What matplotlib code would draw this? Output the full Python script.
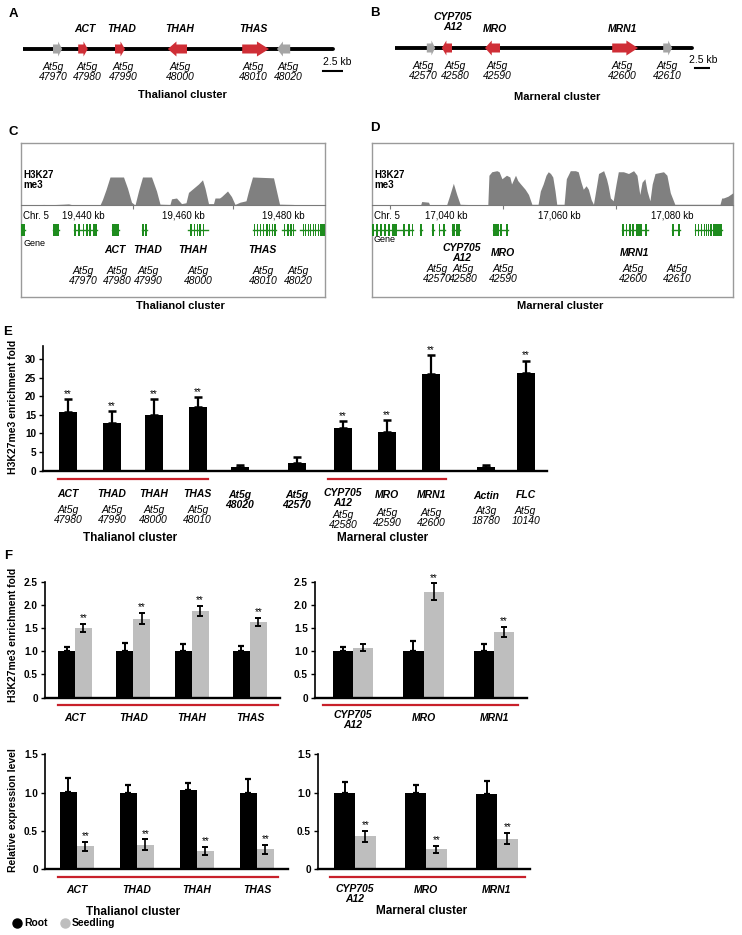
import matplotlib
matplotlib.use("Agg")
import matplotlib.pyplot as plt
from matplotlib.patches import Polygon
from matplotlib.lines import Line2D
from matplotlib.transforms import blended_transform_factory

plt.rcParams["font.family"] = ["Liberation Sans", "DejaVu Sans"]

# ---------------- data ----------------
# A: thalianol cluster map (kb from left end of the line)
a_start = [3.75, 6.9, 11.5, 18.1, 27.4, 31.75]
a_end = [4.9, 8.1, 12.75, 20.5, 30.75, 33.4]
a_strand = [1, 1, 1, -1, 1, -1]
a_cluster = [False, True, True, True, True, False]
a_names = ["", "ACT", "THAD", "THAH", "THAS", ""]
a_ids = ["47970", "47980", "47990", "48000", "48010", "48020"]
a_length = 38.75

# B: marneral cluster map
b_start = [5.3, 7.8, 15.0, 36.2, 44.7]
b_end = [6.7, 9.5, 17.5, 40.5, 46.2]
b_strand = [1, -1, -1, 1, 1]
b_cluster = [False, True, True, True, False]
b_names = ["", "CYP705\nA12", "MRO", "MRN1", ""]
b_ids = ["42570", "42580", "42590", "42600", "42610"]
b_length = 49.5

# C: H3K27me3 coverage, chr5 (kb) and relative height
c_cov_kb = [19427.6, 19430.1, 19432.1, 19433.4, 19436.1, 19437.1, 19438.1, 19443.4,
            19443.9, 19444.6, 19445.4, 19448.1, 19448.9, 19449.7, 19450.4, 19451.1,
            19451.9, 19453.7, 19454.7, 19455.4, 19457.4, 19457.7, 19458.7, 19459.7,
            19460.6, 19461.1, 19462.1, 19463.1, 19463.9, 19464.4, 19465.1, 19466.1,
            19466.4, 19467.3, 19467.7, 19468.9, 19469.7, 19470.4, 19471.4, 19472.6,
            19473.1, 19473.9, 19478.1, 19478.7, 19479.3, 19482.1, 19482.8, 19488.4]
c_cov_h = [0, 0, 0.02, 0.01, 0.03, 0.04, 0, 0,
           0.2, 0.55, 1.0, 1.0, 0.6, 0.1, 0, 0.5,
           1.0, 1.0, 0.5, 0.03, 0.02, 0.22, 0.25, 0.05,
           0.08, 0.45, 0.6, 0.75, 0.9, 0.6, 0.05, 0.05,
           0.25, 0.25, 0.3, 0.5, 0.3, 0.02, 0.1, 0.15,
           0.5, 1.0, 0.97, 0.5, 0.03, 0.02, 0, 0]
c_gene_span = [(19427.6, 19428.4), (19434.1, 19435.3), (19438.2, 19442.7), (19445.7, 19447.3),
               (19451.7, 19452.7), (19461.1, 19465.1), (19474.1, 19478.7), (19479.9, 19482.4),
               (19483.4, 19488.4)]
c_gene_exons = [
    [(19427.6, 19428.4)],
    [(19434.1, 19435.3)],
    [(19438.2, 19438.5), (19439.1, 19439.4), (19439.9, 19440.2), (19440.6, 19440.9),
     (19441.3, 19441.6), (19442.0, 19442.7)],
    [(19445.7, 19447.3)],
    [(19451.7, 19452.2), (19452.4, 19452.7)],
    [(19461.5, 19461.8), (19462.2, 19462.5), (19462.8, 19463.1), (19463.3, 19463.6),
     (19463.9, 19464.2)],
    [(19474.2, 19474.5), (19474.8, 19475.1), (19475.4, 19475.7), (19476.0, 19476.3),
     (19476.6, 19476.9), (19477.2, 19477.5), (19477.8, 19478.1), (19478.3, 19478.6)],
    [(19480.2, 19480.5), (19480.9, 19481.2), (19481.5, 19481.8), (19482.0, 19482.3)],
    [(19484.0, 19484.2), (19484.5, 19484.7), (19485.0, 19485.2), (19485.5, 19485.7),
     (19486.0, 19486.2), (19486.5, 19486.7), (19487.0, 19487.2), (19487.4, 19488.4)],
]
c_xlim = (19427.6, 19488.4)
c_ticks = [19450, 19470]
c_tick_labels = [19440, 19460, 19480]

# D: H3K27me3 coverage around the marneral cluster
d_cov_kb = [17026.8, 17035.4, 17035.6, 17036.8, 17037.0, 17040.0, 17040.5, 17041.2,
            17041.8, 17042.4, 17047.3, 17047.5, 17048.0, 17048.9, 17049.3, 17049.8,
            17050.2, 17050.6, 17051.2, 17051.5, 17052.2, 17052.6, 17053.0, 17053.9,
            17054.5, 17055.1, 17056.2, 17056.6, 17057.1, 17057.6, 17058.0, 17058.4,
            17058.8, 17059.2, 17059.5, 17060.8, 17061.2, 17061.9, 17062.8, 17063.3,
            17063.8, 17064.2, 17064.7, 17065.1, 17065.6, 17066.0, 17066.6, 17066.9,
            17067.8, 17068.3, 17068.6, 17069.0, 17069.5, 17070.0, 17070.4, 17071.3,
            17072.2, 17073.1, 17073.7, 17074.2, 17074.6, 17075.1, 17075.5, 17076.0,
            17076.4, 17076.9, 17078.4, 17079.0, 17079.6, 17080.4, 17088.4, 17088.7,
            17089.0, 17089.8, 17090.7]
d_cov_h = [0, 0, 0.1, 0.08, 0, 0, 0.25, 0.62,
           0.3, 0.02, 0, 0.85, 0.95, 0.98, 0.95, 0.75,
           0.8, 0.85, 0.8, 0.6, 0.85, 0.7, 0.62, 0.45,
           0.3, 0.02, 0.02, 0.4, 0.6, 0.85, 0.95, 0.9,
           0.8, 0.4, 0.02, 0.02, 0.75, 0.98, 0.98, 0.95,
           0.65, 0.45, 0.55, 0.45, 0.15, 0.02, 0.6, 0.9,
           0.98, 0.75, 0.55, 0.2, 0.12, 0.6, 0.95, 0.95,
           0.9, 0.98, 0.85, 0.3, 0.65, 0.75, 0.4, 0.12,
           0.6, 0.9, 0.95, 0.85, 0.35, 0.02, 0.02, 0.2,
           0.2, 0.25, 0.35]
d_gene_span = [(17026.8, 17034.1), (17035.3, 17035.6), (17037.4, 17037.7), (17038.6, 17039.7),
               (17040.9, 17042.4), (17048.3, 17050.9), (17071.0, 17075.7), (17079.9, 17081.3),
               (17084.0, 17088.7)]
d_gene_exons = [
    [(17026.8, 17027.1), (17027.5, 17027.8), (17028.2, 17028.5), (17028.9, 17029.2),
     (17029.6, 17029.9), (17030.3, 17031.3), (17032.3, 17032.6), (17033.2, 17033.5),
     (17033.8, 17034.1)],
    [(17035.3, 17035.6)],
    [(17037.4, 17037.7)],
    [(17038.6, 17038.85), (17039.45, 17039.7)],
    [(17040.9, 17041.5), (17041.7, 17042.4)],
    [(17048.3, 17049.2), (17049.4, 17049.8), (17050.5, 17050.9)],
    [(17071.1, 17071.4), (17071.7, 17072.0), (17072.3, 17072.6), (17072.9, 17073.2),
     (17073.6, 17074.6), (17075.1, 17075.4)],
    [(17079.9, 17080.2), (17081.0, 17081.3)],
    [(17084.0, 17084.2), (17084.5, 17084.7), (17085.0, 17085.2), (17085.5, 17085.7),
     (17085.9, 17086.1), (17086.3, 17086.5), (17086.7, 17086.9), (17087.1, 17088.7)],
]
d_xlim = (17026.8, 17090.7)
d_ticks = [17030, 17050, 17070]
d_tick_labels = [17040, 17060, 17080]

# E: ChIP enrichment
e_names = ["ACT", "THAD", "THAH", "THAS", "At5g\n48020", "At5g\n42570",
           "CYP705\nA12", "MRO", "MRN1", "Actin", "FLC"]
e_ids = ["At5g\n47980", "At5g\n47990", "At5g\n48000", "At5g\n48010", "", "",
         "At5g\n42580", "At5g\n42590", "At5g\n42600", "At3g\n18780", "At5g\n10140"]
e_vals = [15.9, 12.9, 15.0, 17.1, 0.9, 2.2, 11.4, 10.5, 26.0, 0.9, 26.2]
e_err = [3.3, 3.1, 4.2, 2.8, 0.6, 1.6, 2.0, 3.1, 5.1, 0.6, 3.4]
e_sig = [True, True, True, True, False, False, True, True, True, False, True]

# F: root vs seedling
f_thal = ["ACT", "THAD", "THAH", "THAS"]
f_marn = ["CYP705\nA12", "MRO", "MRN1"]
chip_root_thal = [1.0, 1.0, 1.0, 1.0]
chip_root_thal_err = [0.09, 0.17, 0.16, 0.12]
chip_seed_thal = [1.50, 1.70, 1.86, 1.63]
chip_seed_thal_err = [0.08, 0.12, 0.11, 0.08]
chip_root_marn = [1.0, 1.0, 1.0]
chip_root_marn_err = [0.09, 0.21, 0.15]
chip_seed_marn = [1.08, 2.28, 1.41]
chip_seed_marn_err = [0.07, 0.18, 0.11]
chip_sig_thal = [True, True, True, True]
chip_sig_marn = [False, True, True]
expr_root_thal = [1.01, 1.0, 1.03, 0.99]
expr_root_thal_err = [0.18, 0.10, 0.10, 0.19]
expr_seed_thal = [0.30, 0.32, 0.24, 0.26]
expr_seed_thal_err = [0.06, 0.07, 0.05, 0.06]
expr_root_marn = [1.0, 1.0, 0.98]
expr_root_marn_err = [0.14, 0.10, 0.17]
expr_seed_marn = [0.43, 0.26, 0.40]
expr_seed_marn_err = [0.075, 0.05, 0.076]

# ---------------- layout helpers ----------------
W, H = 742, 935
RED = "#cf2e36"
GREY = "#a5a5a5"
GREEN = "#1e8c1e"
COV = "#808080"
SEED = "#bebebe"
CLUSTER_RED = "#c8202a"
FS = 7.5

fig = plt.figure(figsize=(W / 100, H / 100), dpi=100)


def rect(x0, y0, x1, y1):
    return [x0 / W, 1 - y1 / H, (x1 - x0) / W, (y1 - y0) / H]


def ftext(x, y, s, **kw):
    kw.setdefault("ha", "center")
    kw.setdefault("va", "center")
    fig.text(x / W, 1 - y / H, s, **kw)


def xtext(ax, x, y, s, **kw):
    kw.setdefault("ha", "center")
    kw.setdefault("va", "center")
    tr = blended_transform_factory(ax.transData, fig.transFigure)
    ax.text(x, 1 - y / H, s, transform=tr, **kw)


def fline(x0, x1, y, color=CLUSTER_RED, lw=1.6):
    fig.add_artist(Line2D([x0 / W, x1 / W], [1 - y / H, 1 - y / H],
                          transform=fig.transFigure, color=color, lw=lw))


def gene_map(r, xmax, length, starts, ends, strands, cluster, y0, bar):
    ax = fig.add_axes(rect(*r))
    ax.set_xlim(0, xmax)
    ax.set_ylim(85, 20)
    ax.axis("off")
    ax.plot([0, length], [y0, y0], color="black", lw=2.8,
            solid_capstyle="round", zorder=1)
    for s, e, d, c in zip(starts, ends, strands, cluster):
        hl = 0.45 * (e - s)
        if d > 0:
            pts = [(s, y0 - 4.5), (e - hl, y0 - 4.5), (e - hl, y0 - 7.5), (e, y0),
                   (e - hl, y0 + 7.5), (e - hl, y0 + 4.5), (s, y0 + 4.5)]
        else:
            pts = [(e, y0 - 4.5), (s + hl, y0 - 4.5), (s + hl, y0 - 7.5), (s, y0),
                   (s + hl, y0 + 7.5), (s + hl, y0 + 4.5), (e, y0 + 4.5)]
        ax.add_patch(Polygon(pts, closed=True, fc=RED if c else GREY,
                             ec="none", zorder=2))
    ax.plot(bar[:2], [bar[2], bar[2]], color="black", lw=1.5)
    return ax


def track(r_box, cov_top, xlim, cov_kb, cov_h, ticks, tick_labels,
          spans, exons):
    box = fig.add_axes(rect(*r_box))
    box.set_xticks([])
    box.set_yticks([])
    for sp in box.spines.values():
        sp.set_color("#9a9a9a")
        sp.set_linewidth(1.0)
    x0, _, x1, _ = r_box
    cov = fig.add_axes(rect(x0, cov_top, x1, 205))
    cov.patch.set_alpha(0)
    cov.set_xlim(*xlim)
    cov.set_ylim(0, 1)
    cov.fill_between(cov_kb, cov_h, color=COV, lw=0)
    cov.axhline(0, color="#7a7a7a", lw=0.8, clip_on=False)
    for sp in cov.spines.values():
        sp.set_visible(False)
    cov.set_xticks(ticks)
    cov.tick_params(axis="x", length=3, width=0.8, color="#7a7a7a",
                    labelbottom=False)
    cov.set_yticks([])
    for t in tick_labels:
        xtext(cov, t, 216, f"{t:,} kb", fontsize=7)
    gt = fig.add_axes(rect(x0, 224, x1, 236))
    gt.patch.set_alpha(0)
    gt.set_xlim(*xlim)
    gt.set_ylim(-1, 1)
    gt.axis("off")
    for (s, e), ex in zip(spans, exons):
        gt.plot([s, e], [0, 0], color=GREEN, lw=1.0)
        for a, b in ex:
            gt.fill_between([a, b], -1, 1, color=GREEN, lw=0)
    return cov


def bar_style(ax, ymax, ticks):
    ax.set_ylim(0, ymax)
    ax.patch.set_alpha(0)
    for s in ["top", "right"]:
        ax.spines[s].set_visible(False)
    ax.spines["left"].set_linewidth(1.2)
    ax.spines["bottom"].set_linewidth(1.7)
    ax.set_yticks(ticks)
    ax.set_yticklabels(["0" if t == 0 else (f"{t:.1f}" if ymax < 5 else f"{t:g}")
                        for t in ticks], fontweight="bold", fontsize=7.2)
    ax.tick_params(axis="y", length=3, width=1, pad=2)
    ax.tick_params(axis="x", bottom=False, labelbottom=False)


def paired(ax, root, root_err, seed, seed_err, sig, w):
    xs = list(range(len(root)))
    ax.bar([x - w / 2 for x in xs], root, w, color="black",
           yerr=[[0] * len(root), root_err],
           error_kw=dict(ecolor="black", elinewidth=1.4, capsize=2.5, capthick=1.6))
    ax.bar([x + w / 2 for x in xs], seed, w, color=SEED,
           yerr=seed_err,
           error_kw=dict(ecolor="black", elinewidth=1.2, capsize=2.5, capthick=1.4))
    for x, v, e, s in zip(xs, seed, seed_err, sig):
        if s:
            ax.annotate("**", (x + w / 2, v + e), xytext=(0, 0.5),
                        textcoords="offset points", ha="center", va="bottom",
                        fontsize=7)


# ---------------- A / B ----------------
gene_map((23, 20, 343, 85), 40, a_length, a_start, a_end, a_strand, a_cluster,
         49, (37.5, 40, 71))
gene_map((395, 20, 710, 85), 52.5, b_length, b_start, b_end, b_strand, b_cluster,
         48, (50, 52.5, 68))

ftext(13, 14, "A", fontweight="bold", fontsize=9.5)
ftext(375, 13, "B", fontweight="bold", fontsize=9.5)
for x, n in zip([85, 122, 180, 253], ["ACT", "THAD", "THAH", "THAS"]):
    ftext(x, 29, n, fontweight="bold", style="italic", fontsize=FS)
for x, i in zip([53, 87, 123, 180, 253, 288], a_ids):
    ftext(x, 72.5, "At5g\n" + i, style="italic", fontsize=FS, linespacing=1.0)
ftext(182, 95, "Thalianol cluster", fontweight="bold", fontsize=8)
ftext(337, 62, "2.5 kb", fontsize=FS)

for x, y, n in zip([453, 495, 622], [22.5, 29, 29], b_names[1:4]):
    ftext(x, y, n, fontweight="bold", style="italic", fontsize=FS, linespacing=1.0)
for x, i in zip([423, 455, 497, 622, 667], b_ids):
    ftext(x, 71, "At5g\n" + i, style="italic", fontsize=FS, linespacing=1.0)
ftext(557, 97, "Marneral cluster", fontweight="bold", fontsize=8)
ftext(703, 60, "2.5 kb", fontsize=FS)

# ---------------- C / D ----------------
track((21, 143, 325, 297), 177, c_xlim, c_cov_kb, c_cov_h, c_ticks, c_tick_labels,
      c_gene_span, c_gene_exons)
track((372, 143, 733, 297), 170, d_xlim, d_cov_kb, d_cov_h, d_ticks, d_tick_labels,
      d_gene_span, d_gene_exons)

ftext(13, 132, "C", fontweight="bold", fontsize=9.5)
ftext(375, 128, "D", fontweight="bold", fontsize=9.5)
for x0 in [23, 374]:
    ftext(x0, 180, "H3K27\nme3", ha="left", fontweight="bold", fontsize=7,
          linespacing=1.0)
    ftext(x0, 216, "Chr. 5", ha="left", fontsize=7)
ftext(23, 243, "Gene", ha="left", fontsize=6.5)
ftext(374, 240, "Gene", ha="left", fontsize=6.5)
for x, n in zip([115, 148, 193, 262], ["ACT", "THAD", "THAH", "THAS"]):
    ftext(x, 250, n, fontweight="bold", style="italic", fontsize=FS)
for x, i in zip([83, 117, 148, 198, 263, 298], a_ids):
    ftext(x, 276, "At5g\n" + i, style="italic", fontsize=FS, linespacing=1.0)
ftext(180, 306, "Thalianol cluster", fontweight="bold", fontsize=8)
for x, y, n in zip([462, 503, 635], [253, 253, 253], b_names[1:4]):
    ftext(x, y, n, fontweight="bold", style="italic", fontsize=FS, linespacing=1.0)
for x, i in zip([437, 463, 503, 633, 677], b_ids):
    ftext(x, 274, "At5g\n" + i, style="italic", fontsize=FS, linespacing=1.0)
ftext(560, 306, "Marneral cluster", fontweight="bold", fontsize=8)

# ---------------- E ----------------
e_pos = [0, 1, 1.95, 2.95, 3.9, 5.2, 6.25, 7.25, 8.25, 9.5, 10.4]
e_name_y = [494, 494, 494, 494, 500, 500, 497.5, 495, 495, 496, 495]
e_id_y = [515, 515, 515, 515, 0, 0, 520, 518, 518, 516, 516]

axE = fig.add_axes(rect(43, 346, 547, 470.7))
axE.bar(e_pos, e_vals, 0.41, color="black",
        yerr=[[0] * len(e_vals), e_err],
        error_kw=dict(ecolor="black", elinewidth=1.6, capsize=3, capthick=1.8))
for x, v, e, s in zip(e_pos, e_vals, e_err, e_sig):
    if s:
        axE.annotate("**", (x, v + e), xytext=(0, 0), textcoords="offset points",
                     ha="center", va="bottom", fontsize=7)
axE.set_xlim(-0.568, 10.886)
bar_style(axE, 33.5, [0, 5, 10, 15, 20, 25, 30])
for x, n, ny, i, iy in zip(e_pos, e_names, e_name_y, e_ids, e_id_y):
    xtext(axE, x, ny, n, fontweight="bold", style="italic", fontsize=FS,
          linespacing=1.0)
    if i:
        xtext(axE, x, iy, i, style="italic", fontsize=FS, linespacing=1.0)
fline(58, 208, 479)
fline(328, 446, 479)
ftext(8, 332, "E", fontweight="bold", fontsize=9.5)
ftext(13, 407, "H3K27me3 enrichment fold", rotation=90, fontweight="bold", fontsize=7.5)
ftext(130, 538, "Thalianol cluster", fontweight="bold", fontsize=8.5)
ftext(383, 538, "Marneral cluster", fontweight="bold", fontsize=8.5)

# ---------------- F ----------------
ftext(8, 556, "F", fontweight="bold", fontsize=9.5)

ax1 = fig.add_axes(rect(45, 581.5, 280, 697.7))
paired(ax1, chip_root_thal, chip_root_thal_err, chip_seed_thal, chip_seed_thal_err,
       chip_sig_thal, 0.29)
ax1.set_xlim(-0.515, 3.516)
bar_style(ax1, 2.5, [0, 0.5, 1.0, 1.5, 2.0, 2.5])

ax2 = fig.add_axes(rect(315, 581.5, 527, 697.7))
paired(ax2, chip_root_marn, chip_root_marn_err, chip_seed_marn, chip_seed_marn_err,
       chip_sig_marn, 0.284)
ax2.set_xlim(-0.539, 2.468)
bar_style(ax2, 2.5, [0, 0.5, 1.0, 1.5, 2.0, 2.5])

ax3 = fig.add_axes(rect(45, 754.3, 288, 869.3))
paired(ax3, expr_root_thal, expr_root_thal_err, expr_seed_thal, expr_seed_thal_err,
       [True] * 4, 0.283)
ax3.set_xlim(-0.533, 3.517)
bar_style(ax3, 1.5, [0, 0.5, 1.0, 1.5])

ax4 = fig.add_axes(rect(318, 754.3, 530, 869.3))
paired(ax4, expr_root_marn, expr_root_marn_err, expr_seed_marn, expr_seed_marn_err,
       [True] * 3, 0.289)
ax4.set_xlim(-0.521, 2.465)
bar_style(ax4, 1.5, [0, 0.5, 1.0, 1.5])

for ax, names, ys in [(ax1, f_thal, (718, 720)), (ax2, f_marn, (718, 720)),
                      (ax3, f_thal, (890, 894)), (ax4, f_marn, (890, 894))]:
    for x, n in enumerate(names):
        xtext(ax, x, ys[1] if "\n" in n else ys[0], n, fontweight="bold",
              style="italic", fontsize=FS, linespacing=1.0)

fline(58, 278, 705)
fline(323, 518, 705)
fline(58, 278, 877)
fline(330, 525, 877)

ftext(13, 635, "H3K27me3 enrichment fold", rotation=90, fontweight="bold", fontsize=7.5)
ftext(13, 810, "Relative expression level", rotation=90, fontweight="bold", fontsize=7.5)
ftext(133, 912, "Thalianol cluster", fontweight="bold", fontsize=8.5)
ftext(422, 911, "Marneral cluster", fontweight="bold", fontsize=8.5)

# legend
for x, c, lab in [(17, "black", "Root"), (65, SEED, "Seedling")]:
    fig.add_artist(Line2D([x / W], [1 - 923 / H], marker="o", ms=6.5, color=c,
                          lw=0, transform=fig.transFigure))
    ftext(x + 7, 923, lab, ha="left", fontweight="bold", fontsize=7.5)

fig.savefig("out.png", dpi=100)
